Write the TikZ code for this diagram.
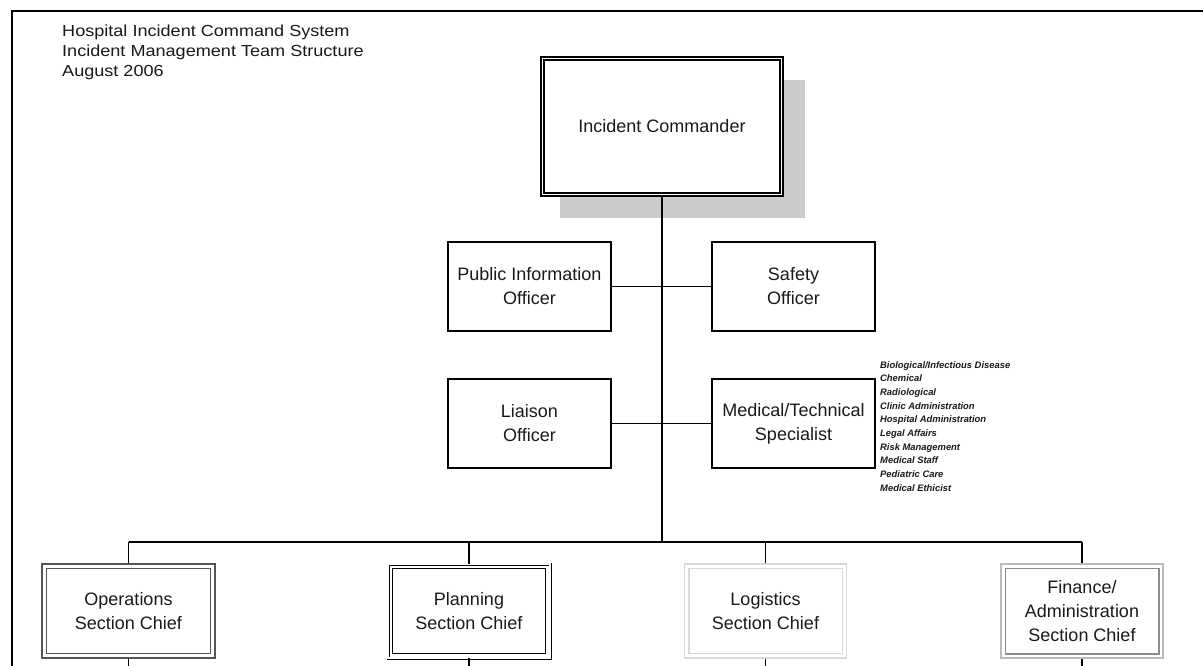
\documentclass[tikz,border=0pt]{standalone}
\usepackage{fontspec}
\setmainfont{Liberation Sans}
\newfontfamily\titlefont{Liberation Sans}[FakeStretch=1.13]
\definecolor{txt}{HTML}{1A1A1A}
\definecolor{shadowgray}{HTML}{CCCCCC}
\definecolor{opsgray}{HTML}{555555}
\definecolor{loggray}{HTML}{D8D8D8}
\definecolor{finout}{HTML}{BBBBBB}
\definecolor{fininn}{HTML}{8C8C8C}
\tikzset{
  boxtext/.style={align=center, text=txt, font=\fontsize{18}{24}\selectfont, inner sep=0pt},
  onebox/.style={boxtext, draw=black, line width=1.3pt, minimum width=163pt, minimum height=89pt},
  chiefbox/.style={boxtext, line width=1.3pt, minimum width=#1, minimum height=94pt},
  conn/.style={draw=black, line width=1.5pt},
}
\begin{document}
\begin{tikzpicture}[x=1pt,y=-1pt]
\useasboundingbox (0,0) rectangle (1203,666);
\fill[white] (0,0) rectangle (1203,666);
% frame
\draw[line width=2pt] (12,667) -- (12,11) -- (1204,11);
% title
\node[anchor=north west, inner sep=0pt, align=left, text=txt,
      font=\titlefont\fontsize{16}{20}\selectfont] (title) at (62,25)
  {Hospital Incident Command System\\Incident Management Team Structure\\August 2006};
% incident commander with shadow
\fill[shadowgray] (560,80) rectangle (805,218);
\node[boxtext, draw=black, fill=white, line width=1.8pt, minimum width=242pt, minimum height=139pt] (ic) at (662,126.5) {Incident Commander};
\draw[line width=1.3pt] ([shift={(4pt,-4pt)}]ic.north west) rectangle ([shift={(-4pt,4pt)}]ic.south east);
% command staff
\node[onebox] (pio) at (529.5,286.5) {Public Information\\Officer};
\node[onebox] (saf) at (793.5,286.5) {Safety\\Officer};
\node[onebox] (lia) at (529.5,423.5) {Liaison\\Officer};
\node[onebox] (med) at (793.5,423.5) {Medical/Technical\\Specialist};
\node[anchor=north west, inner sep=0pt, align=left, text=txt,
      font=\bfseries\itshape\fontsize{9.4}{13.7}\selectfont] (spec) at (880,361)
  {Biological/Infectious Disease\\Chemical\\Radiological\\Clinic Administration\\Hospital Administration\\Legal Affairs\\Risk Management\\Medical Staff\\Pediatric Care\\Medical Ethicist};
% section chiefs
\node[chiefbox=173pt, draw=opsgray] (ops) at (128.5,611) {Operations\\Section Chief};
\draw[opsgray, line width=1.3pt] ([shift={(5pt,-5pt)}]ops.north west) rectangle ([shift={(-5pt,5pt)}]ops.south east);
\node[chiefbox=162pt, draw=black, double=white, double distance=1.2pt, line width=0.9pt] (pla) at (469,611) {Planning\\Section Chief};
\draw[black, line width=1.3pt] ([shift={(5pt,-5pt)}]pla.north west) rectangle ([shift={(-5pt,5pt)}]pla.south east);
\node[chiefbox=162pt, draw=loggray] (log) at (765.5,611) {Logistics\\Section Chief};
\draw[loggray, line width=1.3pt] ([shift={(5pt,-5pt)}]log.north west) rectangle ([shift={(-5pt,5pt)}]log.south east);
\node[chiefbox=162pt, draw=finout, line width=1.6pt] (fin) at (1082,611) {Finance/\\Administration\\Section Chief};
\draw[fininn, line width=1.4pt] ([shift={(5pt,-5pt)}]fin.north west) rectangle ([shift={(-5pt,5pt)}]fin.south east);
% connectors
\coordinate (busM) at (662,542);
\coordinate (bottom) at (0,667);
\draw[conn] (ic.south) -- (busM);
\draw[conn] (pio.east) -- (saf.west);
\draw[conn] (lia.east) -- (med.west);
\draw[conn] (ops.north |- busM) -- (fin.north |- busM);
\foreach \n in {ops,pla,log,fin}{
  \draw[conn] (\n.north) -- (\n.north |- busM);
  \draw[conn] (\n.south) -- (\n.south |- bottom);
}
\end{tikzpicture}
\end{document}
